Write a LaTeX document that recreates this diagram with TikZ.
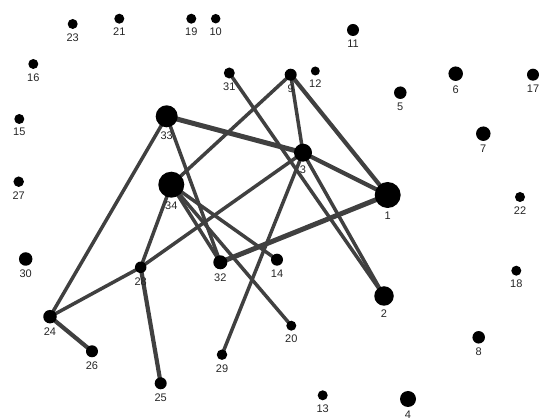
\documentclass[tikz,border=0pt]{standalone}
\usepackage{fontspec}
\setmainfont{Liberation Sans}
\usetikzlibrary{positioning}
\pgfdeclarelayer{background}
\pgfsetlayers{background,main}
\definecolor{edgec}{RGB}{64,64,64}
\tikzset{
  dot/.style={circle, fill=black, inner sep=0pt},
  lbl/.style={inner sep=0pt, font=\fontsize{11}{11}\selectfont, text=black!85},
  edge/.style={draw=edgec, line width=3.5pt},
  edgem/.style={draw=edgec, line width=4.2pt},
  edgeb/.style={draw=edgec, line width=5pt}
}
\newcommand{\gnode}[4]{%
  \node[dot, minimum size=#4pt] (n#1) at (#2,#3) {};
  \node[lbl, below=4pt of n#1] (l#1) {#1};}
\begin{document}
\begin{tikzpicture}[x=1pt,y=-1pt]
\useasboundingbox (0,0) rectangle (544,419);
\gnode{1}{387.7}{195}{26}
\gnode{2}{384}{296}{19.5}
\gnode{3}{303}{152.7}{18}
\gnode{4}{408}{399}{16}
\gnode{5}{400.3}{92.7}{12.5}
\gnode{6}{455.7}{73.7}{14.5}
\gnode{7}{483.3}{133.7}{14.5}
\gnode{8}{478.7}{337.3}{12.5}
\gnode{9}{290.7}{74.7}{12}
\gnode{10}{215.7}{18.7}{9.5}
\gnode{11}{353}{30}{12}
\gnode{12}{315.3}{71}{9}
\gnode{13}{322.7}{395.3}{10}
\gnode{14}{277}{259.7}{12}
\gnode{15}{19.3}{119}{10}
\gnode{16}{33.3}{64}{10}
\gnode{17}{533}{74.7}{12}
\gnode{18}{516.3}{270.7}{10}
\gnode{19}{191.3}{18.7}{10}
\gnode{20}{291.3}{325.7}{10}
\gnode{21}{119.3}{18.7}{10}
\gnode{22}{520}{197}{10}
\gnode{23}{72.7}{24}{10}
\gnode{24}{50}{316.7}{13.5}
\gnode{25}{160.7}{383.3}{12}
\gnode{26}{92}{351.3}{12}
\gnode{27}{18.7}{181.7}{10.5}
\gnode{28}{140.7}{267.3}{11.5}
\gnode{29}{222}{354.7}{10.5}
\gnode{30}{25.7}{259}{13.5}
\gnode{31}{229.3}{73}{11}
\gnode{32}{220.3}{262.3}{14}
\gnode{33}{166.7}{116.3}{22}
\gnode{34}{171.3}{184.7}{26}
\begin{pgfonlayer}{background}
\draw[edgeb] (n33.center) -- (n3.center);
\draw[edge] (n33.center) -- (n32.center);
\draw[edge] (n33.center) -- (n24.center);
\draw[edge] (n31.center) -- (n2.center);
\draw[edge] (n9.center) -- (n34.center);
\draw[edge] (n9.center) -- (n3.center);
\draw[edgem] (n9.center) -- (n1.center);
\draw[edgem] (n3.center) -- (n1.center);
\draw[edge] (n3.center) -- (n2.center);
\draw[edge] (n3.center) -- (n28.center);
\draw[edge] (n3.center) -- (n29.center);
\draw[edge] (n34.center) -- (n32.center);
\draw[edge] (n34.center) -- (n14.center);
\draw[edge] (n34.center) -- (n20.center);
\draw[edge] (n34.center) -- (n28.center);
\draw[edgeb] (n1.center) -- (n32.center);
\draw[edge] (n28.center) -- (n24.center);
\draw[edgem] (n28.center) -- (n25.center);
\draw[edgem] (n24.center) -- (n26.center);
\end{pgfonlayer}
\end{tikzpicture}
\end{document}
